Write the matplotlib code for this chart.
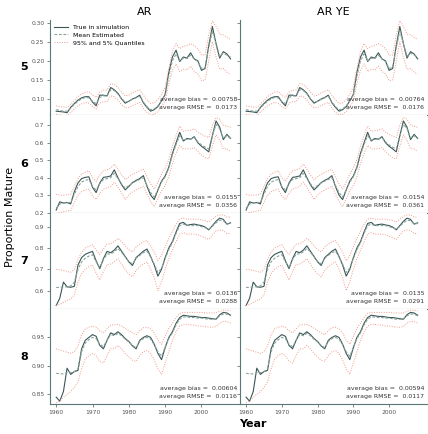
import matplotlib
matplotlib.use("Agg")
import matplotlib.pyplot as plt
import numpy as np

years = list(range(1960, 2009))
ages = ["5", "6", "7", "8"]
models = ["AR", "AR YE"]

true5 = [0.068,0.067,0.066,0.064,0.078,0.088,0.097,0.103,0.106,0.106,0.092,0.082,0.110,0.110,0.108,0.130,0.124,0.115,0.100,0.089,
         0.094,0.100,0.104,0.110,0.090,0.078,0.068,0.072,0.080,0.095,0.112,0.170,0.210,0.228,0.198,0.210,0.207,0.221,0.205,0.200,
         0.175,0.180,0.240,0.290,0.245,0.207,0.224,0.218,0.205]
mean5 = [0.072,0.070,0.068,0.068,0.076,0.086,0.094,0.100,0.104,0.103,0.094,0.088,0.104,0.108,0.108,0.124,0.122,0.113,0.101,0.092,
         0.094,0.099,0.103,0.107,0.092,0.080,0.072,0.074,0.082,0.095,0.112,0.160,0.200,0.218,0.200,0.207,0.206,0.215,0.205,0.198,
         0.180,0.182,0.235,0.278,0.245,0.212,0.220,0.215,0.210]
hi5 = [0.082,0.080,0.079,0.078,0.086,0.096,0.106,0.113,0.118,0.119,0.110,0.104,0.118,0.123,0.124,0.140,0.138,0.130,0.118,0.108,
       0.110,0.116,0.120,0.124,0.110,0.098,0.088,0.090,0.098,0.112,0.132,0.180,0.225,0.245,0.232,0.238,0.240,0.245,0.240,0.232,
       0.215,0.215,0.268,0.305,0.290,0.270,0.268,0.262,0.255]
lo5 = [0.060,0.058,0.057,0.057,0.065,0.074,0.082,0.087,0.091,0.089,0.080,0.074,0.089,0.093,0.093,0.108,0.106,0.097,0.085,0.077,
       0.078,0.083,0.087,0.091,0.076,0.065,0.058,0.060,0.067,0.080,0.095,0.140,0.175,0.192,0.172,0.178,0.176,0.186,0.172,0.166,
       0.148,0.150,0.200,0.250,0.210,0.178,0.180,0.170,0.165]

true6 = [0.215,0.262,0.255,0.258,0.250,0.320,0.370,0.395,0.402,0.405,0.345,0.315,0.370,0.402,0.405,0.410,0.445,0.400,0.360,0.330,
         0.350,0.372,0.385,0.395,0.412,0.350,0.300,0.275,0.330,0.380,0.410,0.460,0.540,0.600,0.660,0.610,0.625,0.620,0.635,0.600,
         0.580,0.565,0.548,0.640,0.725,0.690,0.618,0.648,0.625]
mean6 = [0.225,0.250,0.255,0.258,0.258,0.305,0.350,0.375,0.385,0.390,0.350,0.330,0.365,0.390,0.395,0.400,0.425,0.395,0.365,0.340,
         0.355,0.370,0.380,0.390,0.400,0.355,0.315,0.290,0.330,0.375,0.405,0.455,0.530,0.590,0.640,0.615,0.620,0.620,0.630,0.605,
         0.588,0.575,0.565,0.640,0.705,0.680,0.628,0.640,0.625]
hi6 = [0.305,0.300,0.300,0.302,0.305,0.350,0.395,0.420,0.432,0.440,0.400,0.380,0.415,0.440,0.445,0.455,0.478,0.448,0.415,0.390,
       0.405,0.420,0.430,0.440,0.448,0.405,0.365,0.335,0.375,0.420,0.455,0.505,0.580,0.640,0.695,0.665,0.670,0.672,0.680,0.660,
       0.648,0.638,0.630,0.700,0.745,0.735,0.700,0.695,0.688]
lo6 = [0.195,0.200,0.205,0.210,0.212,0.258,0.300,0.320,0.330,0.335,0.295,0.275,0.310,0.335,0.342,0.350,0.375,0.345,0.312,0.275,
       0.300,0.318,0.330,0.340,0.352,0.305,0.265,0.235,0.280,0.325,0.355,0.405,0.480,0.540,0.585,0.565,0.565,0.565,0.572,0.550,
       0.530,0.515,0.508,0.580,0.645,0.615,0.565,0.565,0.550]

true7 = [0.530,0.565,0.640,0.618,0.616,0.620,0.720,0.755,0.770,0.778,0.784,0.740,0.703,0.750,0.784,0.778,0.790,0.810,0.785,0.760,
         0.735,0.718,0.755,0.770,0.785,0.795,0.760,0.720,0.668,0.700,0.755,0.800,0.830,0.875,0.915,0.920,0.906,0.910,0.912,0.908,
         0.905,0.898,0.885,0.905,0.925,0.940,0.934,0.912,0.918]
mean7 = [0.615,0.615,0.618,0.618,0.622,0.640,0.700,0.735,0.752,0.762,0.768,0.735,0.710,0.745,0.772,0.772,0.782,0.798,0.780,0.758,
         0.738,0.725,0.752,0.765,0.778,0.785,0.758,0.725,0.685,0.705,0.750,0.792,0.825,0.868,0.905,0.912,0.905,0.905,0.905,0.905,
         0.900,0.895,0.888,0.902,0.918,0.930,0.928,0.912,0.915]
hi7 = [0.700,0.698,0.695,0.690,0.686,0.700,0.745,0.780,0.800,0.808,0.815,0.790,0.770,0.795,0.818,0.820,0.830,0.845,0.830,0.810,
       0.792,0.782,0.805,0.818,0.828,0.835,0.810,0.780,0.740,0.765,0.805,0.845,0.878,0.912,0.935,0.940,0.935,0.935,0.935,0.935,
       0.932,0.928,0.922,0.935,0.948,0.955,0.955,0.945,0.945]
lo7 = [0.530,0.535,0.545,0.555,0.560,0.580,0.640,0.680,0.700,0.712,0.720,0.682,0.650,0.690,0.722,0.725,0.735,0.750,0.725,0.698,
       0.678,0.665,0.695,0.712,0.725,0.735,0.700,0.660,0.600,0.640,0.700,0.750,0.790,0.830,0.865,0.872,0.865,0.865,0.865,0.862,
       0.855,0.848,0.840,0.860,0.880,0.885,0.882,0.868,0.868]

true8 = [0.845,0.838,0.855,0.896,0.885,0.890,0.892,0.930,0.945,0.950,0.955,0.952,0.936,0.930,0.945,0.958,0.955,0.960,0.955,0.948,
         0.943,0.935,0.930,0.945,0.950,0.953,0.950,0.938,0.922,0.911,0.932,0.950,0.960,0.975,0.985,0.989,0.988,0.987,0.987,0.986,
         0.985,0.985,0.984,0.983,0.982,0.990,0.994,0.993,0.989]
mean8 = [0.887,0.886,0.886,0.888,0.888,0.890,0.895,0.925,0.940,0.946,0.950,0.948,0.938,0.934,0.945,0.955,0.953,0.957,0.953,0.947,
         0.942,0.936,0.932,0.943,0.948,0.950,0.947,0.937,0.925,0.917,0.933,0.948,0.958,0.972,0.982,0.986,0.986,0.985,0.985,0.984,
         0.984,0.983,0.982,0.982,0.982,0.988,0.991,0.991,0.988]
hi8 = [0.930,0.928,0.926,0.924,0.922,0.925,0.935,0.955,0.965,0.968,0.970,0.968,0.962,0.958,0.965,0.972,0.972,0.973,0.970,0.966,
       0.962,0.958,0.955,0.962,0.967,0.968,0.965,0.958,0.945,0.938,0.952,0.966,0.975,0.985,0.992,0.994,0.994,0.994,0.994,0.994,
       0.994,0.993,0.993,0.993,0.993,0.996,0.998,0.998,0.997]
lo8 = [0.835,0.838,0.845,0.850,0.855,0.862,0.872,0.895,0.912,0.918,0.922,0.918,0.908,0.905,0.918,0.930,0.930,0.936,0.930,0.922,
       0.916,0.910,0.908,0.918,0.925,0.927,0.922,0.910,0.895,0.885,0.905,0.925,0.945,0.960,0.970,0.973,0.973,0.972,0.972,0.970,
       0.970,0.969,0.968,0.968,0.969,0.975,0.978,0.978,0.975]

bias = [["0.00758", "0.00764"], ["0.0155", "0.0154"], ["0.0136", "0.0135"], ["0.00604", "0.00594"]]
rmse = [["0.0173", "0.0176"], ["0.0356", "0.0361"], ["0.0288", "0.0291"], ["0.0116", "0.0117"]]

yticks = [[0.10, 0.15, 0.20, 0.25, 0.30], [0.2, 0.3, 0.4, 0.5, 0.6, 0.7],
          [0.6, 0.7, 0.8, 0.9], [0.85, 0.90, 0.95]]
yticklabels = [["0.10", "0.15", "0.20", "0.25", "0.30"], ["0.2", "0.3", "0.4", "0.5", "0.6", "0.7"],
               ["0.6", "0.7", "0.8", "0.9"], ["0.85", "0.90", "0.95"]]
ylims = [(0.058, 0.307), (0.198, 0.759), (0.514, 0.964), (0.833, 1.0)]
xticks = [1960, 1970, 1980, 1990, 2000]

data = [(true5, mean5, lo5, hi5), (true6, mean6, lo6, hi6),
        (true7, mean7, lo7, hi7), (true8, mean8, lo8, hi8)]

c_true = "#3a5656"
c_mean = "#8aa39a"
c_q = "#f29a8a"
c_spine = "#5a7878"
c_tick = "#555555"

fig = plt.figure(figsize=(4.28, 4.34), dpi=100)
left, mid, right = 50/428, 240/428, 427/428
row_edges = [1 - 20/434, 1 - 115/434, 1 - 213/434, 1 - 309/434, 1 - 404/434]

for r in range(4):
    for c in range(2):
        x0 = left if c == 0 else mid
        x1 = mid if c == 0 else right
        ax = fig.add_axes([x0, row_edges[r+1], x1 - x0, row_edges[r] - row_edges[r+1]])
        t, m, lo, hi = data[r]
        l1, = ax.plot(years, t, color=c_true, lw=0.8, label="True in simulation")
        l2, = ax.plot(years, m, color=c_mean, lw=0.8, ls=(0, (2.5, 1.5)), label="Mean Estimated")
        l3, = ax.plot(years, lo, color=c_q, lw=0.7, ls=(0, (1, 1.5)), label="95% and 5% Quantiles")
        ax.plot(years, hi, color=c_q, lw=0.7, ls=(0, (1, 1.5)))
        ax.set_xlim(1958.3, 2010.6)
        ax.set_ylim(*ylims[r])
        for s in ["top", "right"]:
            ax.spines[s].set_visible(False)
        for s in ["left", "bottom"]:
            ax.spines[s].set_color(c_spine)
            ax.spines[s].set_linewidth(0.8)
        ax.set_xticks(xticks)
        if r == 3:
            ax.set_xticklabels([str(v) for v in xticks])
        else:
            ax.tick_params(axis="x", length=0, labelbottom=False)
        ax.set_yticks(yticks[r])
        if c == 0:
            ax.set_yticklabels(yticklabels[r])
        else:
            ax.tick_params(axis="y", length=0, labelleft=False)
        ax.tick_params(labelsize=4.3, colors=c_tick, length=2, width=0.5, pad=2)
        ax.text(0.985, 0.16, "average bias =  " + bias[r][c], transform=ax.transAxes,
                ha="right", va="center", fontsize=4.5, color="#333333")
        ax.text(0.985, 0.075, "average RMSE =  " + rmse[r][c], transform=ax.transAxes,
                ha="right", va="center", fontsize=4.5, color="#333333")
        if r == 0 and c == 0:
            ax.legend(handles=[l1, l2, l3], loc="upper left", frameon=False, fontsize=4.5,
                      handlelength=2.2, borderaxespad=0.3, labelspacing=0.4, bbox_to_anchor=(0.0, 1.0))
        if c == 0:
            fig.text(24/428, (row_edges[r] + row_edges[r+1]) / 2, ages[r], ha="center", va="center",
                     fontsize=8, fontweight="bold")
        if r == 0:
            fig.text((x0 + x1) / 2, 1 - 12/434, models[c], ha="center", va="center", fontsize=8)

fig.text(10/428, 0.5, "Proportion Mature", rotation=90, ha="center", va="center", fontsize=8)
fig.text(253/428, 1 - 424/434, "Year", ha="center", va="center", fontsize=8, fontweight="bold")

fig.savefig("out.png", dpi=100)
